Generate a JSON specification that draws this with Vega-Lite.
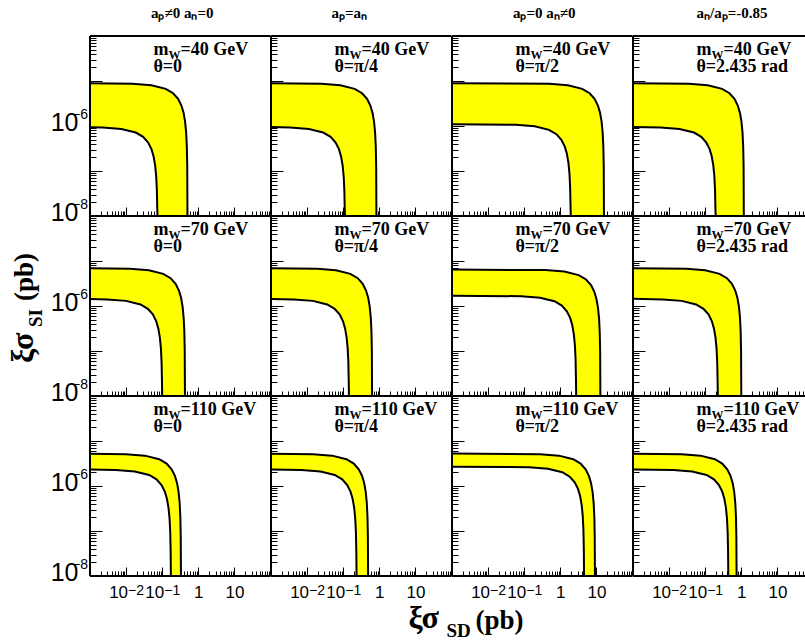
{
"$schema": "https://vega.github.io/schema/vega-lite/v6.json",
"background": "white",
"padding": {"left": 7, "top": 6, "right": 0, "bottom": 0},
"columns": 4,
"spacing": 0,
"bounds": "flush",
"align": "each",
"config": {
  "view": {"stroke": null},
  "axis": {"grid": false, "domain": false, "tickCount": 50, "tickColor": "black", "tickWidth": 1, "labels": false, "labelFont": "Liberation Sans", "labelFontSize": 17, "labelColor": "black", "labelOverlap": false, "labelFlush": false, "labelBound": false},
  "title": {"font": "Liberation Serif", "fontWeight": "bold", "fontSize": 15, "color": "black", "offset": 14, "baseline": "alphabetic", "frame": "group"},
  "style": {
    "ann": {"font": "Liberation Serif", "fontWeight": "bold", "fontSize": 18, "align": "left", "baseline": "alphabetic", "fill": "black"},
    "sub": {"font": "Liberation Serif", "fontWeight": "bold", "fontSize": 12, "align": "left", "baseline": "alphabetic", "fill": "black"},
    "ttl": {"font": "Liberation Serif", "fontWeight": "bold", "fontSize": 27, "align": "left", "baseline": "alphabetic", "fill": "black"},
    "expx": {"font": "Liberation Sans", "fontSize": 14, "align": "left", "baseline": "alphabetic", "fill": "black"},
    "expy": {"font": "Liberation Sans", "fontSize": 14, "align": "left", "baseline": "alphabetic", "fill": "black"}
  }
},
"datasets": {
"d11": [{"k":0,"x":0.001,"y":8.91e-6},{"k":1,"x":0.01503,"y":8.64e-6},{"k":2,"x":0.0501,"y":8.02e-6},{"k":3,"x":0.1253,"y":6.68e-6},{"k":4,"x":0.2004,"y":5.35e-6},{"k":5,"x":0.2756,"y":4.01e-6},{"k":6,"x":0.3407,"y":2.85e-6},{"k":7,"x":0.3908,"y":1.96e-6},{"k":8,"x":0.4309,"y":1.247e-6},{"k":9,"x":0.4609,"y":7.13e-7},{"k":10,"x":0.481,"y":3.56e-7},{"k":11,"x":0.4935,"y":1.34e-7},{"k":12,"x":0.501,"y":1e-8},{"k":13,"x":0.0741,"y":1e-8},{"k":14,"x":0.07299,"y":1.43e-8},{"k":15,"x":0.07114,"y":3.82e-8},{"k":16,"x":0.06817,"y":7.64e-8},{"k":17,"x":0.06373,"y":1.337e-7},{"k":18,"x":0.0578,"y":2.1e-7},{"k":19,"x":0.05039,"y":3.06e-7},{"k":20,"x":0.04076,"y":4.3e-7},{"k":21,"x":0.02964,"y":5.73e-7},{"k":22,"x":0.01853,"y":7.16e-7},{"k":23,"x":0.00741,"y":8.6e-7},{"k":24,"x":0.002223,"y":9.26e-7},{"k":25,"x":0.001,"y":9.42e-7}],
"d12": [{"k":0,"x":0.001,"y":8.9e-6},{"k":1,"x":0.02496,"y":8.64e-6},{"k":2,"x":0.0832,"y":8.02e-6},{"k":3,"x":0.208,"y":6.68e-6},{"k":4,"x":0.3328,"y":5.35e-6},{"k":5,"x":0.4576,"y":4.01e-6},{"k":6,"x":0.5658,"y":2.85e-6},{"k":7,"x":0.649,"y":1.96e-6},{"k":8,"x":0.7155,"y":1.247e-6},{"k":9,"x":0.7654,"y":7.13e-7},{"k":10,"x":0.7987,"y":3.56e-7},{"k":11,"x":0.8195,"y":1.34e-7},{"k":12,"x":0.832,"y":1e-8},{"k":13,"x":0.112,"y":1e-8},{"k":14,"x":0.1103,"y":1.43e-8},{"k":15,"x":0.1075,"y":3.82e-8},{"k":16,"x":0.103,"y":7.64e-8},{"k":17,"x":0.09632,"y":1.337e-7},{"k":18,"x":0.08736,"y":2.1e-7},{"k":19,"x":0.07616,"y":3.06e-7},{"k":20,"x":0.0616,"y":4.3e-7},{"k":21,"x":0.0448,"y":5.73e-7},{"k":22,"x":0.028,"y":7.16e-7},{"k":23,"x":0.0112,"y":8.6e-7},{"k":24,"x":0.00336,"y":9.26e-7},{"k":25,"x":0.001,"y":9.46e-7}],
"d13": [{"k":0,"x":0.001,"y":8.91e-6},{"k":1,"x":0.486,"y":8.64e-6},{"k":2,"x":1.62,"y":8.02e-6},{"k":3,"x":4.05,"y":6.68e-6},{"k":4,"x":6.48,"y":5.35e-6},{"k":5,"x":8.91,"y":4.01e-6},{"k":6,"x":11.02,"y":2.85e-6},{"k":7,"x":12.64,"y":1.96e-6},{"k":8,"x":13.93,"y":1.247e-6},{"k":9,"x":14.9,"y":7.13e-7},{"k":10,"x":15.55,"y":3.56e-7},{"k":11,"x":15.96,"y":1.34e-7},{"k":12,"x":16.2,"y":1e-8},{"k":13,"x":1.95,"y":1e-8},{"k":14,"x":1.921,"y":1.64e-8},{"k":15,"x":1.872,"y":4.38e-8},{"k":16,"x":1.794,"y":8.77e-8},{"k":17,"x":1.677,"y":1.534e-7},{"k":18,"x":1.521,"y":2.41e-7},{"k":19,"x":1.326,"y":3.51e-7},{"k":20,"x":1.0725,"y":4.93e-7},{"k":21,"x":0.78,"y":6.58e-7},{"k":22,"x":0.4875,"y":8.22e-7},{"k":23,"x":0.195,"y":9.86e-7},{"k":24,"x":0.0585,"y":1.063e-6},{"k":25,"x":0.001,"y":1.096e-6}],
"d14": [{"k":0,"x":0.001,"y":8.9e-6},{"k":1,"x":0.03525,"y":8.64e-6},{"k":2,"x":0.1175,"y":8.02e-6},{"k":3,"x":0.2938,"y":6.68e-6},{"k":4,"x":0.47,"y":5.35e-6},{"k":5,"x":0.6463,"y":4.01e-6},{"k":6,"x":0.799,"y":2.85e-6},{"k":7,"x":0.9165,"y":1.96e-6},{"k":8,"x":1.0105,"y":1.247e-6},{"k":9,"x":1.081,"y":7.13e-7},{"k":10,"x":1.128,"y":3.56e-7},{"k":11,"x":1.157,"y":1.34e-7},{"k":12,"x":1.175,"y":1e-8},{"k":13,"x":0.195,"y":1e-8},{"k":14,"x":0.1921,"y":1.43e-8},{"k":15,"x":0.1872,"y":3.82e-8},{"k":16,"x":0.1794,"y":7.64e-8},{"k":17,"x":0.1677,"y":1.337e-7},{"k":18,"x":0.1521,"y":2.1e-7},{"k":19,"x":0.1326,"y":3.06e-7},{"k":20,"x":0.1073,"y":4.3e-7},{"k":21,"x":0.078,"y":5.73e-7},{"k":22,"x":0.04875,"y":7.16e-7},{"k":23,"x":0.0195,"y":8.6e-7},{"k":24,"x":0.00585,"y":9.26e-7},{"k":25,"x":0.001,"y":9.5e-7}],
"d21": [{"k":0,"x":0.001,"y":6.9e-6},{"k":1,"x":0.01281,"y":6.71e-6},{"k":2,"x":0.0427,"y":6.23e-6},{"k":3,"x":0.1068,"y":5.19e-6},{"k":4,"x":0.1708,"y":4.15e-6},{"k":5,"x":0.2349,"y":3.11e-6},{"k":6,"x":0.2904,"y":2.21e-6},{"k":7,"x":0.3331,"y":1.52e-6},{"k":8,"x":0.3672,"y":9.69e-7},{"k":9,"x":0.3928,"y":5.54e-7},{"k":10,"x":0.4099,"y":2.77e-7},{"k":11,"x":0.4206,"y":1.04e-7},{"k":12,"x":0.427,"y":1e-8},{"k":13,"x":0.1,"y":1e-8},{"k":14,"x":0.0985,"y":2.17e-8},{"k":15,"x":0.096,"y":5.78e-8},{"k":16,"x":0.092,"y":1.156e-7},{"k":17,"x":0.086,"y":2.02e-7},{"k":18,"x":0.078,"y":3.18e-7},{"k":19,"x":0.068,"y":4.62e-7},{"k":20,"x":0.055,"y":6.5e-7},{"k":21,"x":0.04,"y":8.67e-7},{"k":22,"x":0.025,"y":1.084e-6},{"k":23,"x":0.01,"y":1.3e-6},{"k":24,"x":0.003,"y":1.402e-6},{"k":25,"x":0.001,"y":1.431e-6}],
"d22": [{"k":0,"x":0.001,"y":6.91e-6},{"k":1,"x":0.01893,"y":6.71e-6},{"k":2,"x":0.0631,"y":6.23e-6},{"k":3,"x":0.1578,"y":5.19e-6},{"k":4,"x":0.2524,"y":4.15e-6},{"k":5,"x":0.3471,"y":3.11e-6},{"k":6,"x":0.4291,"y":2.21e-6},{"k":7,"x":0.4922,"y":1.52e-6},{"k":8,"x":0.5427,"y":9.69e-7},{"k":9,"x":0.5805,"y":5.54e-7},{"k":10,"x":0.6058,"y":2.77e-7},{"k":11,"x":0.6215,"y":1.04e-7},{"k":12,"x":0.631,"y":1e-8},{"k":13,"x":0.1445,"y":1e-8},{"k":14,"x":0.1423,"y":2.17e-8},{"k":15,"x":0.1387,"y":5.78e-8},{"k":16,"x":0.1329,"y":1.156e-7},{"k":17,"x":0.1243,"y":2.02e-7},{"k":18,"x":0.1127,"y":3.18e-7},{"k":19,"x":0.09826,"y":4.62e-7},{"k":20,"x":0.07948,"y":6.5e-7},{"k":21,"x":0.0578,"y":8.67e-7},{"k":22,"x":0.03613,"y":1.084e-6},{"k":23,"x":0.01445,"y":1.3e-6},{"k":24,"x":0.004335,"y":1.402e-6},{"k":25,"x":0.001,"y":1.435e-6}],
"d23": [{"k":0,"x":0.001,"y":6.46e-6},{"k":1,"x":0.387,"y":6.27e-6},{"k":2,"x":1.29,"y":5.81e-6},{"k":3,"x":3.225,"y":4.85e-6},{"k":4,"x":5.16,"y":3.88e-6},{"k":5,"x":7.095,"y":2.91e-6},{"k":6,"x":8.772,"y":2.07e-6},{"k":7,"x":10.06,"y":1.42e-6},{"k":8,"x":11.09,"y":9.04e-7},{"k":9,"x":11.87,"y":5.17e-7},{"k":10,"x":12.38,"y":2.58e-7},{"k":11,"x":12.71,"y":9.69e-8},{"k":12,"x":12.9,"y":1e-8},{"k":13,"x":2.754,"y":1e-8},{"k":14,"x":2.713,"y":2.55e-8},{"k":15,"x":2.644,"y":6.8e-8},{"k":16,"x":2.534,"y":1.36e-7},{"k":17,"x":2.368,"y":2.38e-7},{"k":18,"x":2.148,"y":3.74e-7},{"k":19,"x":1.873,"y":5.44e-7},{"k":20,"x":1.515,"y":7.65e-7},{"k":21,"x":1.102,"y":1.02e-6},{"k":22,"x":0.6885,"y":1.275e-6},{"k":23,"x":0.2754,"y":1.53e-6},{"k":24,"x":0.08262,"y":1.649e-6},{"k":25,"x":0.001,"y":1.7e-6}],
"d24": [{"k":0,"x":0.001,"y":6.91e-6},{"k":1,"x":0.03,"y":6.71e-6},{"k":2,"x":0.1,"y":6.23e-6},{"k":3,"x":0.25,"y":5.19e-6},{"k":4,"x":0.4,"y":4.15e-6},{"k":5,"x":0.55,"y":3.11e-6},{"k":6,"x":0.68,"y":2.21e-6},{"k":7,"x":0.78,"y":1.52e-6},{"k":8,"x":0.86,"y":9.69e-7},{"k":9,"x":0.92,"y":5.54e-7},{"k":10,"x":0.96,"y":2.77e-7},{"k":11,"x":0.985,"y":1.04e-7},{"k":12,"x":1.0,"y":1e-8},{"k":13,"x":0.224,"y":1e-8},{"k":14,"x":0.2206,"y":2.17e-8},{"k":15,"x":0.215,"y":5.78e-8},{"k":16,"x":0.2061,"y":1.156e-7},{"k":17,"x":0.1926,"y":2.02e-7},{"k":18,"x":0.1747,"y":3.18e-7},{"k":19,"x":0.1523,"y":4.62e-7},{"k":20,"x":0.1232,"y":6.5e-7},{"k":21,"x":0.0896,"y":8.67e-7},{"k":22,"x":0.056,"y":1.084e-6},{"k":23,"x":0.0224,"y":1.3e-6},{"k":24,"x":0.00672,"y":1.402e-6},{"k":25,"x":0.001,"y":1.44e-6}],
"d31": [{"k":0,"x":0.001,"y":5.23e-6},{"k":1,"x":0.00993,"y":5.09e-6},{"k":2,"x":0.0331,"y":4.73e-6},{"k":3,"x":0.08275,"y":3.94e-6},{"k":4,"x":0.1324,"y":3.15e-6},{"k":5,"x":0.1821,"y":2.36e-6},{"k":6,"x":0.2251,"y":1.68e-6},{"k":7,"x":0.2582,"y":1.155e-6},{"k":8,"x":0.2847,"y":7.35e-7},{"k":9,"x":0.3045,"y":4.2e-7},{"k":10,"x":0.3178,"y":2.1e-7},{"k":11,"x":0.326,"y":7.88e-8},{"k":12,"x":0.331,"y":1e-8},{"k":13,"x":0.174,"y":1e-8},{"k":14,"x":0.1714,"y":3.51e-8},{"k":15,"x":0.167,"y":9.36e-8},{"k":16,"x":0.1601,"y":1.87e-7},{"k":17,"x":0.1496,"y":3.28e-7},{"k":18,"x":0.1357,"y":5.15e-7},{"k":19,"x":0.1183,"y":7.49e-7},{"k":20,"x":0.0957,"y":1.053e-6},{"k":21,"x":0.0696,"y":1.404e-6},{"k":22,"x":0.0435,"y":1.755e-6},{"k":23,"x":0.0174,"y":2.11e-6},{"k":24,"x":0.00522,"y":2.27e-6},{"k":25,"x":0.001,"y":2.33e-6}],
"d32": [{"k":0,"x":0.001,"y":5.24e-6},{"k":1,"x":0.0147,"y":5.09e-6},{"k":2,"x":0.049,"y":4.73e-6},{"k":3,"x":0.1225,"y":3.94e-6},{"k":4,"x":0.196,"y":3.15e-6},{"k":5,"x":0.2695,"y":2.36e-6},{"k":6,"x":0.3332,"y":1.68e-6},{"k":7,"x":0.3822,"y":1.155e-6},{"k":8,"x":0.4214,"y":7.35e-7},{"k":9,"x":0.4508,"y":4.2e-7},{"k":10,"x":0.4704,"y":2.1e-7},{"k":11,"x":0.4827,"y":7.88e-8},{"k":12,"x":0.49,"y":1e-8},{"k":13,"x":0.2344,"y":1e-8},{"k":14,"x":0.2309,"y":3.51e-8},{"k":15,"x":0.225,"y":9.36e-8},{"k":16,"x":0.2156,"y":1.87e-7},{"k":17,"x":0.2016,"y":3.28e-7},{"k":18,"x":0.1828,"y":5.15e-7},{"k":19,"x":0.1594,"y":7.49e-7},{"k":20,"x":0.1289,"y":1.053e-6},{"k":21,"x":0.09376,"y":1.404e-6},{"k":22,"x":0.0586,"y":1.755e-6},{"k":23,"x":0.02344,"y":2.11e-6},{"k":24,"x":0.00703,"y":2.27e-6},{"k":25,"x":0.001,"y":2.33e-6}],
"d33": [{"k":0,"x":0.001,"y":5.25e-6},{"k":1,"x":0.2736,"y":5.09e-6},{"k":2,"x":0.912,"y":4.73e-6},{"k":3,"x":2.28,"y":3.94e-6},{"k":4,"x":3.648,"y":3.15e-6},{"k":5,"x":5.016,"y":2.36e-6},{"k":6,"x":6.202,"y":1.68e-6},{"k":7,"x":7.114,"y":1.155e-6},{"k":8,"x":7.843,"y":7.35e-7},{"k":9,"x":8.39,"y":4.2e-7},{"k":10,"x":8.755,"y":2.1e-7},{"k":11,"x":8.983,"y":7.88e-8},{"k":12,"x":9.12,"y":1e-8},{"k":13,"x":4.55,"y":1e-8},{"k":14,"x":4.482,"y":4.04e-8},{"k":15,"x":4.368,"y":1.08e-7},{"k":16,"x":4.186,"y":2.15e-7},{"k":17,"x":3.913,"y":3.77e-7},{"k":18,"x":3.549,"y":5.92e-7},{"k":19,"x":3.094,"y":8.61e-7},{"k":20,"x":2.5025,"y":1.21e-6},{"k":21,"x":1.82,"y":1.61e-6},{"k":22,"x":1.1375,"y":2.02e-6},{"k":23,"x":0.455,"y":2.42e-6},{"k":24,"x":0.1365,"y":2.61e-6},{"k":25,"x":0.001,"y":2.69e-6}],
"d34": [{"k":0,"x":0.001,"y":5.24e-6},{"k":1,"x":0.02223,"y":5.09e-6},{"k":2,"x":0.0741,"y":4.73e-6},{"k":3,"x":0.1853,"y":3.94e-6},{"k":4,"x":0.2964,"y":3.15e-6},{"k":5,"x":0.4076,"y":2.36e-6},{"k":6,"x":0.5039,"y":1.68e-6},{"k":7,"x":0.578,"y":1.155e-6},{"k":8,"x":0.6373,"y":7.35e-7},{"k":9,"x":0.6817,"y":4.2e-7},{"k":10,"x":0.7114,"y":2.1e-7},{"k":11,"x":0.7299,"y":7.88e-8},{"k":12,"x":0.741,"y":1e-8},{"k":13,"x":0.4365,"y":1e-8},{"k":14,"x":0.43,"y":3.51e-8},{"k":15,"x":0.419,"y":9.36e-8},{"k":16,"x":0.4016,"y":1.87e-7},{"k":17,"x":0.3754,"y":3.28e-7},{"k":18,"x":0.3405,"y":5.15e-7},{"k":19,"x":0.2968,"y":7.49e-7},{"k":20,"x":0.2401,"y":1.053e-6},{"k":21,"x":0.1746,"y":1.404e-6},{"k":22,"x":0.1091,"y":1.755e-6},{"k":23,"x":0.04365,"y":2.11e-6},{"k":24,"x":0.0131,"y":2.27e-6},{"k":25,"x":0.001,"y":2.34e-6}],
"ey": [{"v":1e-6,"e":"−6"},{"v":1e-8,"e":"−8"}],
"ex": [{"v":0.01,"e":"−2"},{"v":0.1,"e":"−1"}]
},
"concat": [
{"width": 180.5, "height": 180, "title": {"text": "aₚ≠0 aₙ=0", "dx": 2}, "data": {"name": "d11"}, "layer": [
 {"mark": {"type": "line", "fill": "#ffff00", "stroke": "black", "strokeWidth": 2, "clip": true}, "encoding": {"x": {"field": "x", "type": "quantitative", "scale": {"type": "log", "domain": [0.001, 100], "nice": false}, "axis": {"title": null, "tickSize": {"condition": {"test": "abs(log(datum.value)/LN10-round(log(datum.value)/LN10))<0.01", "value": -9}, "value": -5}}}, "y": {"field": "y", "type": "quantitative", "scale": {"type": "log", "domain": [1e-8, 1e-4], "nice": false}, "axis": {"title": null, "tickSize": {"condition": {"test": "abs(log(datum.value)/LN10-round(log(datum.value)/LN10))<0.01", "value": -12}, "value": -6}, "labels": true, "labelFontSize": {"condition": {"test": "abs(log(datum.value)/LN10+6)<0.01 || abs(log(datum.value)/LN10+8)<0.01", "value": 25}, "value": 0}, "labelPadding": 24, "labelOffset": {"condition": {"test": "abs(log(datum.value)/LN10+6)<0.01 || abs(log(datum.value)/LN10+8)<0.01", "value": -4}, "value": 0}, "labelExpr": "abs(log(datum.value)/LN10+6)<0.01 || abs(log(datum.value)/LN10+8)<0.01 ? '10' : ''"}}, "order": {"field": "k", "type": "quantitative"}}},
 {"data": {"values": [{}]}, "mark": {"type": "rule", "color": "black", "strokeWidth": 2}, "encoding": {"x": {"datum": 0.001}}},
 {"data": {"values": [{}]}, "mark": {"type": "rule", "color": "black", "strokeWidth": 2}, "encoding": {"y": {"datum": 1e-8}}},
 {"data": {"values": [{}]}, "mark": {"type": "rule", "color": "black", "strokeWidth": 2}, "encoding": {"y": {"datum": 1e-4}}},
 {"data": {"name": "ey"}, "mark": {"type": "text", "style": "expy", "dx": -18, "dy": -7}, "encoding": {"x": {"datum": 0.001}, "y": {"field": "v", "type": "quantitative", "axis": {"title": null}}, "text": {"field": "e"}}},
 {"data": {"values": [{}]}, "mark": {"type": "text", "style": "ann", "text": "m"}, "encoding": {"x": {"datum": 0.057}, "y": {"datum": 3.88e-5}}},
 {"data": {"values": [{}]}, "mark": {"type": "text", "style": "sub", "text": "W", "dx": 15, "dy": 4}, "encoding": {"x": {"datum": 0.057}, "y": {"datum": 3.88e-5}}},
 {"data": {"values": [{}]}, "mark": {"type": "text", "style": "ann", "text": "=40 GeV", "dx": 27}, "encoding": {"x": {"datum": 0.057}, "y": {"datum": 3.88e-5}}},
 {"data": {"values": [{}]}, "mark": {"type": "text", "style": "ann", "text": "θ=0"}, "encoding": {"x": {"datum": 0.057}, "y": {"datum": 1.58e-5}}}
]},
{"width": 180.5, "height": 180, "title": {"text": "aₚ=aₙ", "dx": -12}, "data": {"name": "d12"}, "layer": [
 {"mark": {"type": "line", "fill": "#ffff00", "stroke": "black", "strokeWidth": 2, "clip": true}, "encoding": {"x": {"field": "x", "type": "quantitative", "scale": {"type": "log", "domain": [0.001, 100], "nice": false}, "axis": {"title": null, "tickSize": {"condition": {"test": "abs(log(datum.value)/LN10-round(log(datum.value)/LN10))<0.01", "value": -9}, "value": -5}}}, "y": {"field": "y", "type": "quantitative", "scale": {"type": "log", "domain": [1e-8, 1e-4], "nice": false}, "axis": {"title": null, "tickSize": {"condition": {"test": "abs(log(datum.value)/LN10-round(log(datum.value)/LN10))<0.01", "value": -12}, "value": -6}}}, "order": {"field": "k", "type": "quantitative"}}},
 {"data": {"values": [{}]}, "mark": {"type": "rule", "color": "black", "strokeWidth": 2}, "encoding": {"x": {"datum": 0.001}}},
 {"data": {"values": [{}]}, "mark": {"type": "rule", "color": "black", "strokeWidth": 2}, "encoding": {"y": {"datum": 1e-8}}},
 {"data": {"values": [{}]}, "mark": {"type": "rule", "color": "black", "strokeWidth": 2}, "encoding": {"y": {"datum": 1e-4}}},
 {"data": {"values": [{}]}, "mark": {"type": "text", "style": "ann", "text": "m"}, "encoding": {"x": {"datum": 0.057}, "y": {"datum": 3.88e-5}}},
 {"data": {"values": [{}]}, "mark": {"type": "text", "style": "sub", "text": "W", "dx": 15, "dy": 4}, "encoding": {"x": {"datum": 0.057}, "y": {"datum": 3.88e-5}}},
 {"data": {"values": [{}]}, "mark": {"type": "text", "style": "ann", "text": "=40 GeV", "dx": 27}, "encoding": {"x": {"datum": 0.057}, "y": {"datum": 3.88e-5}}},
 {"data": {"values": [{}]}, "mark": {"type": "text", "style": "ann", "text": "θ=π/4"}, "encoding": {"x": {"datum": 0.057}, "y": {"datum": 1.58e-5}}}
]},
{"width": 180.5, "height": 180, "title": {"text": "aₚ=0 aₙ≠0", "dx": 2}, "data": {"name": "d13"}, "layer": [
 {"mark": {"type": "line", "fill": "#ffff00", "stroke": "black", "strokeWidth": 2, "clip": true}, "encoding": {"x": {"field": "x", "type": "quantitative", "scale": {"type": "log", "domain": [0.001, 100], "nice": false}, "axis": {"title": null, "tickSize": {"condition": {"test": "abs(log(datum.value)/LN10-round(log(datum.value)/LN10))<0.01", "value": -9}, "value": -5}}}, "y": {"field": "y", "type": "quantitative", "scale": {"type": "log", "domain": [1e-8, 1e-4], "nice": false}, "axis": {"title": null, "tickSize": {"condition": {"test": "abs(log(datum.value)/LN10-round(log(datum.value)/LN10))<0.01", "value": -12}, "value": -6}}}, "order": {"field": "k", "type": "quantitative"}}},
 {"data": {"values": [{}]}, "mark": {"type": "rule", "color": "black", "strokeWidth": 2}, "encoding": {"x": {"datum": 0.001}}},
 {"data": {"values": [{}]}, "mark": {"type": "rule", "color": "black", "strokeWidth": 2}, "encoding": {"y": {"datum": 1e-8}}},
 {"data": {"values": [{}]}, "mark": {"type": "rule", "color": "black", "strokeWidth": 2}, "encoding": {"y": {"datum": 1e-4}}},
 {"data": {"values": [{}]}, "mark": {"type": "text", "style": "ann", "text": "m"}, "encoding": {"x": {"datum": 0.057}, "y": {"datum": 3.88e-5}}},
 {"data": {"values": [{}]}, "mark": {"type": "text", "style": "sub", "text": "W", "dx": 15, "dy": 4}, "encoding": {"x": {"datum": 0.057}, "y": {"datum": 3.88e-5}}},
 {"data": {"values": [{}]}, "mark": {"type": "text", "style": "ann", "text": "=40 GeV", "dx": 27}, "encoding": {"x": {"datum": 0.057}, "y": {"datum": 3.88e-5}}},
 {"data": {"values": [{}]}, "mark": {"type": "text", "style": "ann", "text": "θ=π/2"}, "encoding": {"x": {"datum": 0.057}, "y": {"datum": 1.58e-5}}}
]},
{"width": 174, "height": 180, "title": {"text": "aₙ/aₚ=-0.85", "dx": 12}, "data": {"name": "d14"}, "layer": [
 {"mark": {"type": "line", "fill": "#ffff00", "stroke": "black", "strokeWidth": 2, "clip": true}, "encoding": {"x": {"field": "x", "type": "quantitative", "scale": {"type": "log", "domain": [0.001, 66.1], "nice": false}, "axis": {"title": null, "tickSize": {"condition": {"test": "abs(log(datum.value)/LN10-round(log(datum.value)/LN10))<0.01", "value": -9}, "value": -5}}}, "y": {"field": "y", "type": "quantitative", "scale": {"type": "log", "domain": [1e-8, 1e-4], "nice": false}, "axis": {"title": null, "tickSize": {"condition": {"test": "abs(log(datum.value)/LN10-round(log(datum.value)/LN10))<0.01", "value": -12}, "value": -6}}}, "order": {"field": "k", "type": "quantitative"}}},
 {"data": {"values": [{}]}, "mark": {"type": "rule", "color": "black", "strokeWidth": 2}, "encoding": {"x": {"datum": 0.001}}},
 {"data": {"values": [{}]}, "mark": {"type": "rule", "color": "black", "strokeWidth": 2}, "encoding": {"y": {"datum": 1e-8}}},
 {"data": {"values": [{}]}, "mark": {"type": "rule", "color": "black", "strokeWidth": 2}, "encoding": {"y": {"datum": 1e-4}}},
 {"data": {"values": [{}]}, "mark": {"type": "text", "style": "ann", "text": "m"}, "encoding": {"x": {"datum": 0.057}, "y": {"datum": 3.88e-5}}},
 {"data": {"values": [{}]}, "mark": {"type": "text", "style": "sub", "text": "W", "dx": 15, "dy": 4}, "encoding": {"x": {"datum": 0.057}, "y": {"datum": 3.88e-5}}},
 {"data": {"values": [{}]}, "mark": {"type": "text", "style": "ann", "text": "=40 GeV", "dx": 27}, "encoding": {"x": {"datum": 0.057}, "y": {"datum": 3.88e-5}}},
 {"data": {"values": [{}]}, "mark": {"type": "text", "style": "ann", "text": "θ=2.435 rad"}, "encoding": {"x": {"datum": 0.057}, "y": {"datum": 1.58e-5}}}
]},
{"width": 180.5, "height": 180, "data": {"name": "d21"}, "layer": [
 {"mark": {"type": "line", "fill": "#ffff00", "stroke": "black", "strokeWidth": 2, "clip": true}, "encoding": {"x": {"field": "x", "type": "quantitative", "scale": {"type": "log", "domain": [0.001, 100], "nice": false}, "axis": {"title": null, "tickSize": {"condition": {"test": "abs(log(datum.value)/LN10-round(log(datum.value)/LN10))<0.01", "value": -9}, "value": -5}}}, "y": {"field": "y", "type": "quantitative", "scale": {"type": "log", "domain": [1e-8, 1e-4], "nice": false}, "axis": {"title": null, "tickSize": {"condition": {"test": "abs(log(datum.value)/LN10-round(log(datum.value)/LN10))<0.01", "value": -12}, "value": -6}, "labels": true, "labelFontSize": {"condition": {"test": "abs(log(datum.value)/LN10+6)<0.01 || abs(log(datum.value)/LN10+8)<0.01", "value": 25}, "value": 0}, "labelPadding": 24, "labelOffset": {"condition": {"test": "abs(log(datum.value)/LN10+6)<0.01 || abs(log(datum.value)/LN10+8)<0.01", "value": -4}, "value": 0}, "labelExpr": "abs(log(datum.value)/LN10+6)<0.01 || abs(log(datum.value)/LN10+8)<0.01 ? '10' : ''"}}, "order": {"field": "k", "type": "quantitative"}}},
 {"data": {"values": [{}]}, "mark": {"type": "rule", "color": "black", "strokeWidth": 2}, "encoding": {"x": {"datum": 0.001}}},
 {"data": {"values": [{}]}, "mark": {"type": "rule", "color": "black", "strokeWidth": 2}, "encoding": {"y": {"datum": 1e-8}}},
 {"data": {"name": "ey"}, "mark": {"type": "text", "style": "expy", "dx": -18, "dy": -7}, "encoding": {"x": {"datum": 0.001}, "y": {"field": "v", "type": "quantitative", "axis": {"title": null}}, "text": {"field": "e"}}},
 {"data": {"values": [{}]}, "mark": {"type": "text", "style": "ann", "text": "m"}, "encoding": {"x": {"datum": 0.057}, "y": {"datum": 3.88e-5}}},
 {"data": {"values": [{}]}, "mark": {"type": "text", "style": "sub", "text": "W", "dx": 15, "dy": 4}, "encoding": {"x": {"datum": 0.057}, "y": {"datum": 3.88e-5}}},
 {"data": {"values": [{}]}, "mark": {"type": "text", "style": "ann", "text": "=70 GeV", "dx": 27}, "encoding": {"x": {"datum": 0.057}, "y": {"datum": 3.88e-5}}},
 {"data": {"values": [{}]}, "mark": {"type": "text", "style": "ann", "text": "θ=0"}, "encoding": {"x": {"datum": 0.057}, "y": {"datum": 1.58e-5}}},
 {"data": {"values": [{}]}, "mark": {"type": "text", "style": "ttl", "text": "ξσ", "fontSize": 32, "angle": 270, "dx": -57, "dy": -57}, "encoding": {"x": {"datum": 0.001}, "y": {"datum": 1e-6}}},
 {"data": {"values": [{}]}, "mark": {"type": "text", "style": "ttl", "text": "SI", "fontSize": 19, "angle": 270, "dx": -21, "dy": -48}, "encoding": {"x": {"datum": 0.001}, "y": {"datum": 1e-6}}},
 {"data": {"values": [{}]}, "mark": {"type": "text", "style": "ttl", "text": "(pb)", "angle": 270, "dx": 5, "dy": -57}, "encoding": {"x": {"datum": 0.001}, "y": {"datum": 1e-6}}}
]},
{"width": 180.5, "height": 180, "data": {"name": "d22"}, "layer": [
 {"mark": {"type": "line", "fill": "#ffff00", "stroke": "black", "strokeWidth": 2, "clip": true}, "encoding": {"x": {"field": "x", "type": "quantitative", "scale": {"type": "log", "domain": [0.001, 100], "nice": false}, "axis": {"title": null, "tickSize": {"condition": {"test": "abs(log(datum.value)/LN10-round(log(datum.value)/LN10))<0.01", "value": -9}, "value": -5}}}, "y": {"field": "y", "type": "quantitative", "scale": {"type": "log", "domain": [1e-8, 1e-4], "nice": false}, "axis": {"title": null, "tickSize": {"condition": {"test": "abs(log(datum.value)/LN10-round(log(datum.value)/LN10))<0.01", "value": -12}, "value": -6}}}, "order": {"field": "k", "type": "quantitative"}}},
 {"data": {"values": [{}]}, "mark": {"type": "rule", "color": "black", "strokeWidth": 2}, "encoding": {"x": {"datum": 0.001}}},
 {"data": {"values": [{}]}, "mark": {"type": "rule", "color": "black", "strokeWidth": 2}, "encoding": {"y": {"datum": 1e-8}}},
 {"data": {"values": [{}]}, "mark": {"type": "text", "style": "ann", "text": "m"}, "encoding": {"x": {"datum": 0.057}, "y": {"datum": 3.88e-5}}},
 {"data": {"values": [{}]}, "mark": {"type": "text", "style": "sub", "text": "W", "dx": 15, "dy": 4}, "encoding": {"x": {"datum": 0.057}, "y": {"datum": 3.88e-5}}},
 {"data": {"values": [{}]}, "mark": {"type": "text", "style": "ann", "text": "=70 GeV", "dx": 27}, "encoding": {"x": {"datum": 0.057}, "y": {"datum": 3.88e-5}}},
 {"data": {"values": [{}]}, "mark": {"type": "text", "style": "ann", "text": "θ=π/4"}, "encoding": {"x": {"datum": 0.057}, "y": {"datum": 1.58e-5}}}
]},
{"width": 180.5, "height": 180, "data": {"name": "d23"}, "layer": [
 {"mark": {"type": "line", "fill": "#ffff00", "stroke": "black", "strokeWidth": 2, "clip": true}, "encoding": {"x": {"field": "x", "type": "quantitative", "scale": {"type": "log", "domain": [0.001, 100], "nice": false}, "axis": {"title": null, "tickSize": {"condition": {"test": "abs(log(datum.value)/LN10-round(log(datum.value)/LN10))<0.01", "value": -9}, "value": -5}}}, "y": {"field": "y", "type": "quantitative", "scale": {"type": "log", "domain": [1e-8, 1e-4], "nice": false}, "axis": {"title": null, "tickSize": {"condition": {"test": "abs(log(datum.value)/LN10-round(log(datum.value)/LN10))<0.01", "value": -12}, "value": -6}}}, "order": {"field": "k", "type": "quantitative"}}},
 {"data": {"values": [{}]}, "mark": {"type": "rule", "color": "black", "strokeWidth": 2}, "encoding": {"x": {"datum": 0.001}}},
 {"data": {"values": [{}]}, "mark": {"type": "rule", "color": "black", "strokeWidth": 2}, "encoding": {"y": {"datum": 1e-8}}},
 {"data": {"values": [{}]}, "mark": {"type": "text", "style": "ann", "text": "m"}, "encoding": {"x": {"datum": 0.057}, "y": {"datum": 3.88e-5}}},
 {"data": {"values": [{}]}, "mark": {"type": "text", "style": "sub", "text": "W", "dx": 15, "dy": 4}, "encoding": {"x": {"datum": 0.057}, "y": {"datum": 3.88e-5}}},
 {"data": {"values": [{}]}, "mark": {"type": "text", "style": "ann", "text": "=70 GeV", "dx": 27}, "encoding": {"x": {"datum": 0.057}, "y": {"datum": 3.88e-5}}},
 {"data": {"values": [{}]}, "mark": {"type": "text", "style": "ann", "text": "θ=π/2"}, "encoding": {"x": {"datum": 0.057}, "y": {"datum": 1.58e-5}}}
]},
{"width": 174, "height": 180, "data": {"name": "d24"}, "layer": [
 {"mark": {"type": "line", "fill": "#ffff00", "stroke": "black", "strokeWidth": 2, "clip": true}, "encoding": {"x": {"field": "x", "type": "quantitative", "scale": {"type": "log", "domain": [0.001, 66.1], "nice": false}, "axis": {"title": null, "tickSize": {"condition": {"test": "abs(log(datum.value)/LN10-round(log(datum.value)/LN10))<0.01", "value": -9}, "value": -5}}}, "y": {"field": "y", "type": "quantitative", "scale": {"type": "log", "domain": [1e-8, 1e-4], "nice": false}, "axis": {"title": null, "tickSize": {"condition": {"test": "abs(log(datum.value)/LN10-round(log(datum.value)/LN10))<0.01", "value": -12}, "value": -6}}}, "order": {"field": "k", "type": "quantitative"}}},
 {"data": {"values": [{}]}, "mark": {"type": "rule", "color": "black", "strokeWidth": 2}, "encoding": {"x": {"datum": 0.001}}},
 {"data": {"values": [{}]}, "mark": {"type": "rule", "color": "black", "strokeWidth": 2}, "encoding": {"y": {"datum": 1e-8}}},
 {"data": {"values": [{}]}, "mark": {"type": "text", "style": "ann", "text": "m"}, "encoding": {"x": {"datum": 0.057}, "y": {"datum": 3.88e-5}}},
 {"data": {"values": [{}]}, "mark": {"type": "text", "style": "sub", "text": "W", "dx": 15, "dy": 4}, "encoding": {"x": {"datum": 0.057}, "y": {"datum": 3.88e-5}}},
 {"data": {"values": [{}]}, "mark": {"type": "text", "style": "ann", "text": "=70 GeV", "dx": 27}, "encoding": {"x": {"datum": 0.057}, "y": {"datum": 3.88e-5}}},
 {"data": {"values": [{}]}, "mark": {"type": "text", "style": "ann", "text": "θ=2.435 rad"}, "encoding": {"x": {"datum": 0.057}, "y": {"datum": 1.58e-5}}}
]},
{"width": 180.5, "height": 180, "data": {"name": "d31"}, "layer": [
 {"mark": {"type": "line", "fill": "#ffff00", "stroke": "black", "strokeWidth": 2, "clip": true}, "encoding": {"x": {"field": "x", "type": "quantitative", "scale": {"type": "log", "domain": [0.001, 100], "nice": false}, "axis": {"title": null, "tickSize": {"condition": {"test": "abs(log(datum.value)/LN10-round(log(datum.value)/LN10))<0.01", "value": -9}, "value": -5}, "labels": true, "labelPadding": 17, "labelFontSize": {"condition": {"test": "abs(log(datum.value)/LN10-round(log(datum.value)/LN10))<0.01 && datum.value > 0.005 && datum.value < 20", "value": 17}, "value": 0}, "labelOffset": {"condition": {"test": "datum.value < 0.5", "value": -8}, "value": 0}, "labelExpr": "abs(log(datum.value)/LN10+2)<0.01 || abs(log(datum.value)/LN10+1)<0.01 || abs(log(datum.value)/LN10-1)<0.01 ? '10' : abs(log(datum.value)/LN10)<0.01 ? '1' : ''"}}, "y": {"field": "y", "type": "quantitative", "scale": {"type": "log", "domain": [1e-8, 1e-4], "nice": false}, "axis": {"title": null, "tickSize": {"condition": {"test": "abs(log(datum.value)/LN10-round(log(datum.value)/LN10))<0.01", "value": -12}, "value": -6}, "labels": true, "labelFontSize": {"condition": {"test": "abs(log(datum.value)/LN10+6)<0.01 || abs(log(datum.value)/LN10+8)<0.01", "value": 25}, "value": 0}, "labelPadding": 24, "labelOffset": {"condition": {"test": "abs(log(datum.value)/LN10+6)<0.01 || abs(log(datum.value)/LN10+8)<0.01", "value": -4}, "value": 0}, "labelExpr": "abs(log(datum.value)/LN10+6)<0.01 || abs(log(datum.value)/LN10+8)<0.01 ? '10' : ''"}}, "order": {"field": "k", "type": "quantitative"}}},
 {"data": {"values": [{}]}, "mark": {"type": "rule", "color": "black", "strokeWidth": 2}, "encoding": {"x": {"datum": 0.001}}},
 {"data": {"values": [{}]}, "mark": {"type": "rule", "color": "black", "strokeWidth": 2}, "encoding": {"y": {"datum": 1e-8}}},
 {"data": {"name": "ey"}, "mark": {"type": "text", "style": "expy", "dx": -18, "dy": -7}, "encoding": {"x": {"datum": 0.001}, "y": {"field": "v", "type": "quantitative", "axis": {"title": null}}, "text": {"field": "e"}}},
 {"data": {"name": "ex"}, "mark": {"type": "text", "style": "expx", "dx": 2, "dy": 19}, "encoding": {"y": {"datum": 1e-8}, "x": {"field": "v", "type": "quantitative", "axis": {"title": null}}, "text": {"field": "e"}}},
 {"data": {"values": [{}]}, "mark": {"type": "text", "style": "ann", "text": "m"}, "encoding": {"x": {"datum": 0.057}, "y": {"datum": 3.88e-5}}},
 {"data": {"values": [{}]}, "mark": {"type": "text", "style": "sub", "text": "W", "dx": 15, "dy": 4}, "encoding": {"x": {"datum": 0.057}, "y": {"datum": 3.88e-5}}},
 {"data": {"values": [{}]}, "mark": {"type": "text", "style": "ann", "text": "=110 GeV", "dx": 27}, "encoding": {"x": {"datum": 0.057}, "y": {"datum": 3.88e-5}}},
 {"data": {"values": [{}]}, "mark": {"type": "text", "style": "ann", "text": "θ=0"}, "encoding": {"x": {"datum": 0.057}, "y": {"datum": 1.58e-5}}}
]},
{"width": 180.5, "height": 180, "data": {"name": "d32"}, "layer": [
 {"mark": {"type": "line", "fill": "#ffff00", "stroke": "black", "strokeWidth": 2, "clip": true}, "encoding": {"x": {"field": "x", "type": "quantitative", "scale": {"type": "log", "domain": [0.001, 100], "nice": false}, "axis": {"title": null, "tickSize": {"condition": {"test": "abs(log(datum.value)/LN10-round(log(datum.value)/LN10))<0.01", "value": -9}, "value": -5}, "labels": true, "labelPadding": 17, "labelFontSize": {"condition": {"test": "abs(log(datum.value)/LN10-round(log(datum.value)/LN10))<0.01 && datum.value > 0.005 && datum.value < 20", "value": 17}, "value": 0}, "labelOffset": {"condition": {"test": "datum.value < 0.5", "value": -8}, "value": 0}, "labelExpr": "abs(log(datum.value)/LN10+2)<0.01 || abs(log(datum.value)/LN10+1)<0.01 || abs(log(datum.value)/LN10-1)<0.01 ? '10' : abs(log(datum.value)/LN10)<0.01 ? '1' : ''"}}, "y": {"field": "y", "type": "quantitative", "scale": {"type": "log", "domain": [1e-8, 1e-4], "nice": false}, "axis": {"title": null, "tickSize": {"condition": {"test": "abs(log(datum.value)/LN10-round(log(datum.value)/LN10))<0.01", "value": -12}, "value": -6}}}, "order": {"field": "k", "type": "quantitative"}}},
 {"data": {"values": [{}]}, "mark": {"type": "rule", "color": "black", "strokeWidth": 2}, "encoding": {"x": {"datum": 0.001}}},
 {"data": {"values": [{}]}, "mark": {"type": "rule", "color": "black", "strokeWidth": 2}, "encoding": {"y": {"datum": 1e-8}}},
 {"data": {"name": "ex"}, "mark": {"type": "text", "style": "expx", "dx": 2, "dy": 19}, "encoding": {"y": {"datum": 1e-8}, "x": {"field": "v", "type": "quantitative", "axis": {"title": null}}, "text": {"field": "e"}}},
 {"data": {"values": [{}]}, "mark": {"type": "text", "style": "ann", "text": "m"}, "encoding": {"x": {"datum": 0.057}, "y": {"datum": 3.88e-5}}},
 {"data": {"values": [{}]}, "mark": {"type": "text", "style": "sub", "text": "W", "dx": 15, "dy": 4}, "encoding": {"x": {"datum": 0.057}, "y": {"datum": 3.88e-5}}},
 {"data": {"values": [{}]}, "mark": {"type": "text", "style": "ann", "text": "=110 GeV", "dx": 27}, "encoding": {"x": {"datum": 0.057}, "y": {"datum": 3.88e-5}}},
 {"data": {"values": [{}]}, "mark": {"type": "text", "style": "ann", "text": "θ=π/4"}, "encoding": {"x": {"datum": 0.057}, "y": {"datum": 1.58e-5}}},
 {"data": {"values": [{}]}, "mark": {"type": "text", "style": "ttl", "text": "ξσ", "fontSize": 32, "dx": -43, "dy": 52}, "encoding": {"x": {"datum": 100}, "y": {"datum": 1e-8}}},
 {"data": {"values": [{}]}, "mark": {"type": "text", "style": "ttl", "text": "SD", "fontSize": 19, "dx": -5, "dy": 61}, "encoding": {"x": {"datum": 100}, "y": {"datum": 1e-8}}},
 {"data": {"values": [{}]}, "mark": {"type": "text", "style": "ttl", "text": "(pb)", "dx": 24, "dy": 53}, "encoding": {"x": {"datum": 100}, "y": {"datum": 1e-8}}}
]},
{"width": 180.5, "height": 180, "data": {"name": "d33"}, "layer": [
 {"mark": {"type": "line", "fill": "#ffff00", "stroke": "black", "strokeWidth": 2, "clip": true}, "encoding": {"x": {"field": "x", "type": "quantitative", "scale": {"type": "log", "domain": [0.001, 100], "nice": false}, "axis": {"title": null, "tickSize": {"condition": {"test": "abs(log(datum.value)/LN10-round(log(datum.value)/LN10))<0.01", "value": -9}, "value": -5}, "labels": true, "labelPadding": 17, "labelFontSize": {"condition": {"test": "abs(log(datum.value)/LN10-round(log(datum.value)/LN10))<0.01 && datum.value > 0.005 && datum.value < 20", "value": 17}, "value": 0}, "labelOffset": {"condition": {"test": "datum.value < 0.5", "value": -8}, "value": 0}, "labelExpr": "abs(log(datum.value)/LN10+2)<0.01 || abs(log(datum.value)/LN10+1)<0.01 || abs(log(datum.value)/LN10-1)<0.01 ? '10' : abs(log(datum.value)/LN10)<0.01 ? '1' : ''"}}, "y": {"field": "y", "type": "quantitative", "scale": {"type": "log", "domain": [1e-8, 1e-4], "nice": false}, "axis": {"title": null, "tickSize": {"condition": {"test": "abs(log(datum.value)/LN10-round(log(datum.value)/LN10))<0.01", "value": -12}, "value": -6}}}, "order": {"field": "k", "type": "quantitative"}}},
 {"data": {"values": [{}]}, "mark": {"type": "rule", "color": "black", "strokeWidth": 2}, "encoding": {"x": {"datum": 0.001}}},
 {"data": {"values": [{}]}, "mark": {"type": "rule", "color": "black", "strokeWidth": 2}, "encoding": {"y": {"datum": 1e-8}}},
 {"data": {"name": "ex"}, "mark": {"type": "text", "style": "expx", "dx": 2, "dy": 19}, "encoding": {"y": {"datum": 1e-8}, "x": {"field": "v", "type": "quantitative", "axis": {"title": null}}, "text": {"field": "e"}}},
 {"data": {"values": [{}]}, "mark": {"type": "text", "style": "ann", "text": "m"}, "encoding": {"x": {"datum": 0.057}, "y": {"datum": 3.88e-5}}},
 {"data": {"values": [{}]}, "mark": {"type": "text", "style": "sub", "text": "W", "dx": 15, "dy": 4}, "encoding": {"x": {"datum": 0.057}, "y": {"datum": 3.88e-5}}},
 {"data": {"values": [{}]}, "mark": {"type": "text", "style": "ann", "text": "=110 GeV", "dx": 27}, "encoding": {"x": {"datum": 0.057}, "y": {"datum": 3.88e-5}}},
 {"data": {"values": [{}]}, "mark": {"type": "text", "style": "ann", "text": "θ=π/2"}, "encoding": {"x": {"datum": 0.057}, "y": {"datum": 1.58e-5}}}
]},
{"width": 174, "height": 180, "data": {"name": "d34"}, "layer": [
 {"mark": {"type": "line", "fill": "#ffff00", "stroke": "black", "strokeWidth": 2, "clip": true}, "encoding": {"x": {"field": "x", "type": "quantitative", "scale": {"type": "log", "domain": [0.001, 66.1], "nice": false}, "axis": {"title": null, "tickSize": {"condition": {"test": "abs(log(datum.value)/LN10-round(log(datum.value)/LN10))<0.01", "value": -9}, "value": -5}, "labels": true, "labelPadding": 17, "labelFontSize": {"condition": {"test": "abs(log(datum.value)/LN10-round(log(datum.value)/LN10))<0.01 && datum.value > 0.005 && datum.value < 20", "value": 17}, "value": 0}, "labelOffset": {"condition": {"test": "datum.value < 0.5", "value": -8}, "value": 0}, "labelExpr": "abs(log(datum.value)/LN10+2)<0.01 || abs(log(datum.value)/LN10+1)<0.01 || abs(log(datum.value)/LN10-1)<0.01 ? '10' : abs(log(datum.value)/LN10)<0.01 ? '1' : ''"}}, "y": {"field": "y", "type": "quantitative", "scale": {"type": "log", "domain": [1e-8, 1e-4], "nice": false}, "axis": {"title": null, "tickSize": {"condition": {"test": "abs(log(datum.value)/LN10-round(log(datum.value)/LN10))<0.01", "value": -12}, "value": -6}}}, "order": {"field": "k", "type": "quantitative"}}},
 {"data": {"values": [{}]}, "mark": {"type": "rule", "color": "black", "strokeWidth": 2}, "encoding": {"x": {"datum": 0.001}}},
 {"data": {"values": [{}]}, "mark": {"type": "rule", "color": "black", "strokeWidth": 2}, "encoding": {"y": {"datum": 1e-8}}},
 {"data": {"name": "ex"}, "mark": {"type": "text", "style": "expx", "dx": 2, "dy": 19}, "encoding": {"y": {"datum": 1e-8}, "x": {"field": "v", "type": "quantitative", "axis": {"title": null}}, "text": {"field": "e"}}},
 {"data": {"values": [{}]}, "mark": {"type": "text", "style": "ann", "text": "m"}, "encoding": {"x": {"datum": 0.057}, "y": {"datum": 3.88e-5}}},
 {"data": {"values": [{}]}, "mark": {"type": "text", "style": "sub", "text": "W", "dx": 15, "dy": 4}, "encoding": {"x": {"datum": 0.057}, "y": {"datum": 3.88e-5}}},
 {"data": {"values": [{}]}, "mark": {"type": "text", "style": "ann", "text": "=110 GeV", "dx": 27}, "encoding": {"x": {"datum": 0.057}, "y": {"datum": 3.88e-5}}},
 {"data": {"values": [{}]}, "mark": {"type": "text", "style": "ann", "text": "θ=2.435 rad"}, "encoding": {"x": {"datum": 0.057}, "y": {"datum": 1.58e-5}}}
]}
]
}
